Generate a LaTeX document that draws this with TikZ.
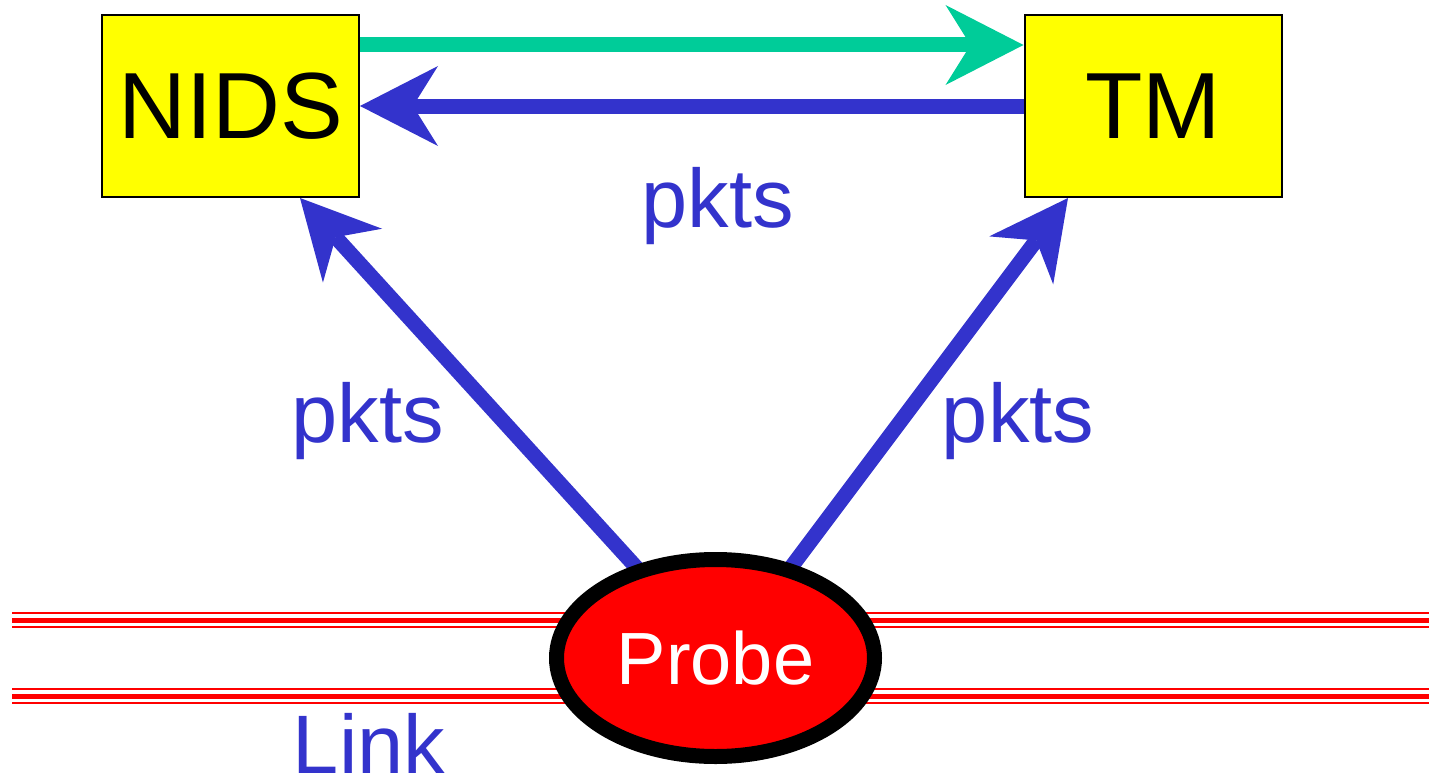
\documentclass[tikz,border=0pt]{standalone}
\usepackage{fontspec}
\setmainfont{Liberation Sans}
\usetikzlibrary{arrows.meta,shapes.geometric,calc,backgrounds}
\definecolor{pktblue}{RGB}{51,51,204}
\definecolor{ctrlgreen}{RGB}{0,204,153}
\definecolor{boxyellow}{RGB}{255,255,0}
\definecolor{wirered}{RGB}{255,0,0}
\tikzset{
  unit/.style={draw=black, line width=2pt, fill=boxyellow, inner sep=0pt,
    minimum width=257pt, minimum height=182pt,
    font=\fontsize{94pt}{100pt}\selectfont},
  probebox/.style={ellipse, draw=black, line width=15pt, fill=wirered,
    inner sep=0pt, minimum width=318pt, minimum height=197pt,
    text=white, font=\fontsize{74pt}{80pt}\selectfont},
  flow/.style={line width=15pt,
    -{Stealth[length=78pt, width=80pt, inset=25pt, line width=0pt]}},
  lbl/.style={text=pktblue, inner sep=0pt, anchor=base,
    font=\fontsize{83pt}{90pt}\selectfont},
}
\begin{document}
\begin{tikzpicture}[x=1pt, y=-1pt]
  \useasboundingbox (0,0) rectangle (1429,776);

  % monitoring components
  \node[unit] (nids) at (230.5,106) {NIDS};
  \node[unit] (tm)   at (1153,106)  {TM};
  \node[probebox] (probe) at (715.5,658) {Probe};

  % labels
  \node[lbl] (lblTop)   at (717.5,227) {pkts};
  \node[lbl] (lblLeft)  at (367.5,442) {pkts};
  \node[lbl] (lblRight) at (1018,442)  {pkts};
  \node[lbl] (lblLink)  at (369,773)   {Link};

  \begin{scope}[on background layer]
    % the monitored link: triple red rails
    \foreach \yy in {620,696} {
      \draw[wirered, line width=16.5pt] (12,\yy) -- (1429,\yy);
      \draw[white,   line width=11.5pt] (12,\yy) -- (1429,\yy);
      \draw[wirered, line width=5pt]    (12,\yy) -- (1429,\yy);
    }

    % control channel and packet flows
    \draw[flow, ctrlgreen] ($(nids.north east)+(0,31)$) -- ($(tm.north west)+(0,31)$);
    \draw[flow, pktblue] (tm.west) -- (nids.east);
    \draw[flow, pktblue] ($(probe.center)+(-75,-86)$) -- ($(nids.south west)+(199,0)$);
    \draw[flow, pktblue] ($(probe.center)+(72,-86)$) -- ($(tm.south west)+(44.5,0)$);
  \end{scope}
\end{tikzpicture}
\end{document}
